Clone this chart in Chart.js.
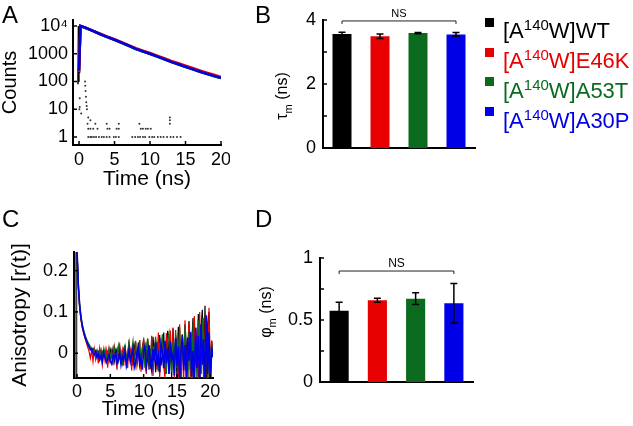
<!DOCTYPE html>
<html><head><meta charset="utf-8">
<script src="https://cdn.jsdelivr.net/npm/chart.js@4/dist/chart.umd.min.js"></script>
<style>
body{margin:0;width:633px;height:426px;position:relative;background:#fff;font-family:'Liberation Sans',Arial,sans-serif;overflow:hidden;color:#000}
canvas{position:absolute}
.letter{position:absolute;font-size:24px;line-height:1}
.sq{position:absolute;width:9px;height:9px}
.lt{position:absolute;font-size:22px;line-height:1;white-space:nowrap}
.lt span{font-size:15px;position:relative;top:-8px}
.yt{position:absolute;font-size:16px;line-height:1;white-space:nowrap;transform:translate(-50%,-50%) rotate(-90deg)}
.yt sub{font-size:11px}
</style></head><body>
<canvas id="cA" width="230" height="195" style="left:0;top:0"></canvas>
<canvas id="cB" width="230" height="195" style="left:250px;top:0"></canvas>
<canvas id="cC" width="225" height="226" style="left:0;top:200px"></canvas>
<canvas id="cD" width="230" height="226" style="left:250px;top:200px"></canvas>
<div class="letter" style="left:2px;top:3px">A</div>
<div class="letter" style="left:255px;top:3px">B</div>
<div class="letter" style="left:2px;top:207px">C</div>
<div class="letter" style="left:255px;top:207px">D</div>
<div class="yt" style="left:284px;top:96px">τ<sub>m</sub> (ns)</div>
<div class="yt" style="left:268px;top:312px">φ<sub>m</sub> (ns)</div>
<div id="legend"></div>
<script>
// ---------- data ----------
const variants = ['[A140W]WT','[A140W]E46K','[A140W]A53T','[A140W]A30P'];
const variantSuffix = ['WT','E46K','A53T','A30P'];
const variantColors = ['#000000','#e60000','#0a6b1e','#0000e6'];

// Panel A: fluorescence decay (log counts)
const decayTimes = [0.0,0.2,0.5,1,2,3,4,5,6,7,8,9,10,11,12,13,14,15,16,17,18,19,20];
const countsWT   = [200,9900,9400,8400,6550,5050,3980,3180,2480,1940,1500,1210,990,800,640,510,420,340,280,230,190,158,133];
const countsE46K = [220,10000,9500,8550,6700,5250,4150,3330,2620,2040,1590,1290,1060,860,690,555,455,370,305,252,208,174,146];
const countsA53T = [350,9800,9300,8300,6500,5000,3950,3150,2450,1920,1480,1200,980,790,630,505,410,335,275,225,188,158,132];
const countsA30P = [250,10200,9500,8500,6600,5100,4000,3200,2500,1950,1500,1220,1000,800,640,510,420,340,280,230,190,160,135];
const irfTimes  = [-0.15,-0.08,-0.02];
const irfCounts = [80,10000,95];
const irfDotTimes  = [0.05,0.1,0.1,0.3,0.85,0.88,0.92,0.98,1.02,1.08,1.12,
  1.3,1.6,1.8,2.1,2.4,2.8,3.2,3.5,3.9,4.3,4.9,5.2,5.6,7.5,7.9,8.3,8.6,9.0,9.3,9.9,10.3,10.6,11.1,11.5,11.9,12.4,12.9,13.3,13.8,14.3,
  1.3,1.6,2.0,2.6,4.0,4.3,5.3,5.6,8.7,9.0,9.4,9.7,10.1,
  1.2,2.3,3.9,5.6,8.5,12.8,
  1.3,1.6,12.8,12.8];
const irfDotCounts = [10,25,12,7,100,70,45,28,18,13,10,
  1,1,1,1,1,1,1,1,1,1,1,1,1,1,1,1,1,1,1,1,1,1,1,1,1,1,1,1,1,1,
  2,2,2,2,2,2,2,2,2,2,2,2,2,
  3,3,3,3,3,3,
  5,4,5,4];
const timeTicksA = [0,5,10,15,20];
const countTicks = [1,10,100,1000,10000];
const countTickLabels = ['1','10','100','1000','10⁴'];

// Panel B: mean lifetime tau_m (ns)
const tauM    = [3.56,3.49,3.59,3.55];
const tauMErr = [0.06,0.07,0.02,0.06];
const tauTicks = [0,1,2,3,4];
const tauTickLabels = ['0','','2','','4'];

// Panel C: anisotropy decay r(t)
const aniTimes = [0,0.2,0.4,0.6,0.8,1,1.2,1.4,1.6,1.8,2,2.2,2.4,2.6,2.8,3,3.2,3.4,3.6,3.8,4,4.2,4.4,4.6,4.8,5,5.2,5.4,5.6,5.8,6,6.2,6.4,6.6,6.8,7,7.2,7.4,7.6,7.8,8,8.2,8.4,8.6,8.8,9,9.2,9.4,9.6,9.8,10,10.2,10.4,10.6,10.8,11,11.2,11.4,11.6,11.8,12,12.2,12.4,12.6,12.8,13,13.2,13.4,13.6,13.8,14,14.2,14.4,14.6,14.8,15,15.2,15.4,15.6,15.8,16,16.2,16.4,16.6,16.8,17,17.2,17.4,17.6,17.8,18,18.2,18.4,18.6,18.8,19,19.2,19.4,19.6,19.8,20,20.2,20.4];
const aniWT = [0.25,0.16,0.112,0.084,0.064,0.05,
  0.04,0.031,0.024,0.018,0.012,0.008,0.012,0.002,0.006,-0.004,
  0.004,-0.008,0.008,-0.014,0.0,0.006,-0.012,0.002,-0.018,0.008,
  -0.008,0.012,-0.02,-0.002,0.01,-0.016,0.016,-0.01,-0.024,0.006,
  0.014,-0.026,-0.004,0.022,-0.012,0.004,-0.03,0.018,0.0,-0.02,
  0.026,-0.008,-0.034,0.014,0.03,-0.02,-0.006,0.034,-0.04,0.01,
  -0.024,0.04,0.002,-0.046,0.028,-0.014,0.044,-0.03,-0.004,0.05,
  -0.05,0.016,0.054,-0.024,0.008,-0.058,0.06,-0.01,0.03,-0.062,
  0.064,0.004,-0.066,0.046,-0.03,0.07,0.02,-0.072,0.078,-0.04,
  0.02,0.085,-0.074,0.04,-0.02,0.095,-0.08,0.06,0.105,-0.06,
  0.115,-0.09,0.07,0.1,-0.07,0.03,0.0];
const aniE46K = [0.25,0.16,0.11,0.08,0.06,0.048,
  0.036,0.026,0.015,0.005,-0.012,0.008,-0.02,0.01,-0.015,0.004,
  -0.025,0.012,-0.01,-0.03,0.008,-0.018,0.006,-0.035,0.01,-0.012,
  0.004,-0.028,0.015,-0.01,-0.04,0.012,0.02,-0.022,0.006,-0.03,
  0.018,-0.008,-0.036,0.024,0.01,-0.042,0.02,-0.014,0.03,-0.03,
  -0.01,0.032,-0.045,0.012,0.036,-0.024,-0.05,0.03,0.008,-0.038,
  0.042,-0.055,0.018,0.028,-0.04,0.05,-0.06,0.01,0.038,-0.03,
  -0.06,0.048,0.015,-0.05,0.055,-0.02,0.062,-0.065,0.025,0.04,
  -0.07,0.07,-0.025,0.03,-0.07,0.08,-0.045,0.012,0.075,-0.07,
  0.05,-0.08,0.09,-0.03,0.06,-0.09,0.1,-0.05,0.02,0.085,
  -0.08,0.06,-0.1,0.11,-0.04,0.03,0.0];
const aniA53T = [0.25,0.17,0.12,0.09,0.07,0.056,
  0.045,0.036,0.028,0.022,0.016,0.012,0.006,0.01,0.002,0.008,
  -0.002,0.006,-0.012,0.004,-0.006,0.01,-0.016,0.002,0.012,-0.01,
  0.006,-0.02,0.014,0.0,-0.012,0.018,-0.006,0.004,-0.022,0.012,
  0.02,-0.014,0.002,0.026,-0.02,0.006,0.03,-0.01,-0.03,0.016,
  -0.004,0.032,-0.026,0.008,0.022,-0.036,0.012,0.036,-0.018,-0.004,
  0.028,-0.04,0.01,0.04,-0.022,-0.044,0.02,0.006,0.046,-0.03,
  0.012,-0.05,0.034,0.05,-0.012,-0.046,0.026,-0.02,0.056,-0.036,
  0.01,0.06,-0.056,0.022,-0.01,0.066,-0.04,-0.062,0.05,0.016,
  -0.07,0.072,-0.02,0.04,-0.076,0.08,0.01,-0.05,0.085,-0.08,
  0.03,0.09,-0.086,0.05,-0.03,0.02,0.0];
const aniA30P = [0.25,0.165,0.115,0.085,0.066,0.052,
  0.04,0.03,0.022,0.015,0.008,0.01,0.0,-0.004,0.004,-0.01,
  -0.002,-0.016,-0.006,-0.02,0.002,-0.01,-0.022,-0.014,-0.004,-0.02,
  -0.026,-0.006,-0.012,0.004,-0.024,-0.018,0.0,-0.028,-0.008,-0.016,
  0.004,-0.03,-0.014,0.008,-0.02,-0.004,0.012,-0.034,-0.022,0.002,
  0.014,-0.028,-0.01,-0.04,0.006,0.018,-0.032,-0.012,0.02,-0.024,
  -0.042,0.01,-0.018,0.026,-0.03,-0.006,-0.046,0.022,0.002,-0.036,
  0.03,-0.024,0.012,-0.05,0.028,-0.014,-0.002,-0.054,0.036,-0.03,
  0.016,-0.06,0.004,0.044,-0.042,0.02,-0.066,0.038,-0.018,0.052,
  -0.056,0.006,-0.07,0.062,-0.036,0.042,-0.08,0.07,-0.028,0.034,
  -0.088,0.092,-0.05,0.05,-0.09,0.014,-0.01];
const irfAniTimes  = [-0.22,-0.17,-0.12,-0.07,-0.02];
const irfAniValues = [-0.07,0.26,-0.07,0.26,-0.07];
const timeTicksC = [0,5,10,15,20];
const aniTicks = [0,0.1,0.2];
const aniTickLabels = ['0','0.1','0.2'];

// Panel D: mean rotational correlation time phi_m (ns)
const phiM    = [0.575,0.659,0.672,0.635];
const phiMErr = [0.068,0.016,0.048,0.16];
const phiTicks = [0,0.25,0.5,0.75,1];
const phiTickLabels = ['0','','0.5','','1'];

// ---------- helpers ----------
const FONT = "'Liberation Sans', Arial, sans-serif";
const xy = (xs, ys) => xs.map((x, i) => ({x, y: ys[i]}));
const fixY = w => s => { s.width = w; s.paddingTop = 0; s.paddingBottom = 0; };
const fixX = h => s => { s.height = h; s.paddingLeft = 0; s.paddingRight = 0; };
const setTicks = vals => s => { s.ticks = vals.map(v => ({value: v})); };
const tickFont = {family: FONT, size: 18, lineHeight: 1};
const border = {display: true, color: '#000', width: 2};

const inwardTicks = {
  id: 'inwardTicks',
  afterDraw(chart, args, opts) {
    const ctx = chart.ctx, len = opts.length || 4;
    ctx.save(); ctx.strokeStyle = '#000'; ctx.lineWidth = 1.5;
    (opts.scales || []).forEach(id => {
      const s = chart.scales[id];
      s.ticks.forEach(t => {
        const p = s.getPixelForValue(t.value);
        ctx.beginPath();
        if (s.isHorizontal()) { ctx.moveTo(p, s.top); ctx.lineTo(p, s.top - len); }
        else { ctx.moveTo(s.right, p); ctx.lineTo(s.right + len, p); }
        ctx.stroke();
      });
    });
    ctx.restore();
  }
};
const errorBars = {
  id: 'errorBars',
  afterDatasetsDraw(chart, args, o) {
    if (!o.errors) return;
    const ctx = chart.ctx, y = chart.scales.y, meta = chart.getDatasetMeta(0);
    const data = chart.data.datasets[0].data;
    ctx.save(); ctx.strokeStyle = '#000'; ctx.lineWidth = 1.5;
    meta.data.forEach((bar, i) => {
      const yt = y.getPixelForValue(data[i] + o.errors[i]);
      const yb = y.getPixelForValue(data[i] - o.errors[i]);
      ctx.beginPath();
      ctx.moveTo(bar.x, yb); ctx.lineTo(bar.x, yt);
      ctx.moveTo(bar.x - 3.5, yt); ctx.lineTo(bar.x + 3.5, yt);
      ctx.moveTo(bar.x - 3.5, yb); ctx.lineTo(bar.x + 3.5, yb);
      ctx.stroke();
    });
    ctx.restore();
  }
};
const nsBracket = {
  id: 'nsBracket',
  afterDatasetsDraw(chart, args, o) {
    if (o.text === undefined) return;
    const ctx = chart.ctx, x = chart.scales.x, y = chart.scales.y;
    const x1 = x.getPixelForValue(o.from), x2 = x.getPixelForValue(o.to);
    const yl = y.getPixelForValue(o.level), ye = yl + o.drop;
    ctx.save(); ctx.strokeStyle = '#222'; ctx.lineWidth = 1;
    ctx.beginPath(); ctx.moveTo(x1, ye); ctx.lineTo(x1, yl); ctx.lineTo(x2, yl); ctx.lineTo(x2, ye); ctx.stroke();
    ctx.fillStyle = '#000'; ctx.font = o.fontSize + 'px ' + FONT; ctx.textAlign = 'center'; ctx.textBaseline = 'bottom';
    ctx.fillText(o.text, (x1 + x2) / 2, yl - o.gap);
    ctx.restore();
  }
};
const base = {responsive: false, animation: false, devicePixelRatio: 1, maintainAspectRatio: false};

// ---------- Panel A ----------
const decaySets = [countsWT, countsE46K, countsA53T, countsA30P];
const decayOrder = [3, 1, 2, 0];
new Chart(document.getElementById('cA'), {
  type: 'line',
  data: {datasets: [
    ...decaySets.map((c, i) => ({label: variants[i], data: xy(decayTimes, c), borderColor: variantColors[i],
      borderWidth: 2.5, pointRadius: 0, order: decayOrder[i], tension: 0})),
    {label: 'IRF', data: xy(irfTimes, irfCounts), borderColor: '#000', borderWidth: 1.5, pointRadius: 0, order: 4},
    {label: 'IRF noise', data: xy(irfDotTimes, irfDotCounts), showLine: false, pointRadius: 1,
      pointBackgroundColor: '#333', pointBorderWidth: 0, order: 5}
  ]},
  options: {...base,
    layout: {padding: {top: 20, right: 9, left: 0, bottom: 0}},
    plugins: {legend: {display: false}, tooltip: {enabled: false}, inwardTicks: {scales: ['x', 'y']}},
    scales: {
      x: {type: 'linear', min: -0.85, max: 20, afterBuildTicks: setTicks(timeTicksA), afterFit: fixX(50),
        grid: {display: false, drawTicks: false}, border,
        ticks: {font: tickFont, color: '#000', padding: 6, maxRotation: 0, autoSkip: false},
        title: {display: true, text: 'Time (ns)', color: '#000', font: {family: FONT, size: 21, lineHeight: 1}, padding: {top: 0, bottom: 5}}},
      y: {type: 'logarithmic', min: 0.515, max: 16440, afterBuildTicks: setTicks(countTicks), afterFit: fixY(73),
        grid: {display: false, drawTicks: false}, border,
        ticks: {font: tickFont, color: '#000', padding: 5, autoSkip: false, callback: (v, i) => countTickLabels[i]},
        title: {display: true, text: 'Counts', color: '#000', font: {family: FONT, size: 20, lineHeight: 1}, padding: {top: 0, bottom: 0}}}
    }
  },
  plugins: [inwardTicks]
});

// ---------- bar panels ----------
function barChart(id, values, errs, ticks, labels, yMax, yW, xH, padTop, padRight, bracket) {
  new Chart(document.getElementById(id), {
    type: 'bar',
    data: {labels: variantSuffix, datasets: [{data: values, backgroundColor: variantColors, borderWidth: 0,
      categoryPercentage: 1, barPercentage: 0.5}]},
    options: {...base,
      layout: {padding: {top: padTop, right: padRight, left: 0, bottom: 0}},
      plugins: {legend: {display: false}, tooltip: {enabled: false}, inwardTicks: {scales: ['y']},
        errorBars: {errors: errs}, nsBracket: bracket},
      scales: {
        x: {afterFit: fixX(xH), grid: {display: false, drawTicks: false}, border, ticks: {display: false}},
        y: {min: 0, max: yMax, afterBuildTicks: setTicks(ticks), afterFit: fixY(yW),
          grid: {display: false, drawTicks: false}, border,
          ticks: {font: tickFont, color: '#000', padding: 7, autoSkip: false, callback: (v, i) => labels[i]}}
      }
    },
    plugins: [inwardTicks, errorBars, nsBracket]
  });
}
barChart('cB', tauM, tauMErr, tauTicks, tauTickLabels, 4, 73, 47, 20, 5,
  {text: 'NS', from: 0, to: 3, level: 3.97, drop: 3, gap: 1, fontSize: 11});
barChart('cD', phiM, phiMErr, phiTicks, phiTickLabels, 1, 70, 44, 58, 7,
  {text: 'NS', from: 0, to: 3, level: 0.895, drop: 3, gap: 1, fontSize: 12});

// ---------- Panel C ----------
const aniSets = [aniWT, aniE46K, aniA53T, aniA30P];
const aniOrder = [3, 2, 1, 0];
const aniWidths = [1.2, 1.2, 1.2, 1.6];
new Chart(document.getElementById('cC'), {
  type: 'line',
  data: {datasets: [
    ...aniSets.map((a, i) => ({label: variants[i], data: xy(aniTimes, a), borderColor: variantColors[i],
      borderWidth: aniWidths[i], pointRadius: 0, order: aniOrder[i], tension: 0})),
    {label: 'IRF', data: xy(irfAniTimes, irfAniValues), borderColor: '#444', borderWidth: 1.2, pointRadius: 0, order: 5}
  ]},
  options: {...base,
    layout: {padding: {top: 52, right: 12, left: 0, bottom: 0}},
    plugins: {legend: {display: false}, tooltip: {enabled: false}, inwardTicks: {scales: ['x', 'y']}},
    scales: {
      x: {type: 'linear', min: -0.45, max: 20.4, afterBuildTicks: setTicks(timeTicksC), afterFit: fixX(48),
        grid: {display: false, drawTicks: false}, border,
        ticks: {font: tickFont, color: '#000', padding: 5, maxRotation: 0, autoSkip: false},
        title: {display: true, text: 'Time (ns)', color: '#000', font: {family: FONT, size: 20, lineHeight: 1}, padding: {top: 0, bottom: 7}}},
      y: {min: -0.06, max: 0.245, afterBuildTicks: setTicks(aniTicks), afterFit: fixY(74),
        grid: {display: false, drawTicks: false}, border,
        ticks: {font: tickFont, color: '#000', padding: 6, autoSkip: false, callback: (v, i) => aniTickLabels[i]},
        title: {display: true, text: 'Anisotropy [r(t)]', color: '#000', font: {family: FONT, size: 21, lineHeight: 1}, padding: {top: 10, bottom: 0}}}
    }
  },
  plugins: [inwardTicks]
});

// ---------- legend ----------
const leg = document.getElementById('legend');
variants.forEach((v, i) => {
  const sq = document.createElement('div');
  sq.className = 'sq'; sq.style.left = '485px'; sq.style.top = (18 + 29.7 * i) + 'px'; sq.style.background = variantColors[i];
  leg.appendChild(sq);
  const t = document.createElement('div');
  t.className = 'lt'; t.style.left = '503px'; t.style.top = (20.4 + 29.7 * i) + 'px'; t.style.color = variantColors[i];
  t.innerHTML = '[A<span>140</span>W]' + variantSuffix[i];
  leg.appendChild(t);
});
</script>
</body></html>
